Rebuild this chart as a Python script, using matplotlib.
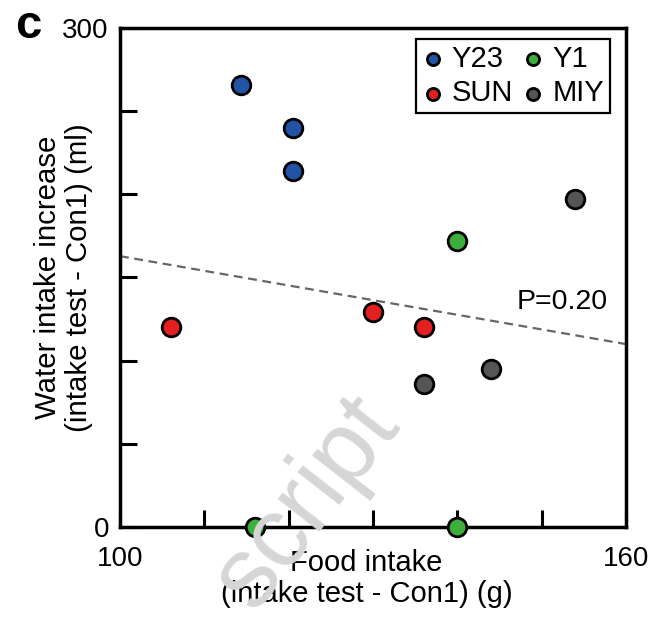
import numpy as np
import matplotlib
matplotlib.use('Agg')
import matplotlib.pyplot as plt

plt.rcParams['font.family'] = ['Liberation Sans', 'DejaVu Sans']

# data
groups = ['Y23', 'SUN', 'Y1', 'MIY']
colors = ['#2353a5', '#e3201f', '#3bae3c', '#555555']
food = {
    'Y23': [114.4, 120.5, 120.5],
    'SUN': [106.0, 130.0, 136.0],
    'Y1': [116.0, 140.0, 140.0],
    'MIY': [136.0, 144.0, 154.0],
}
water = {
    'Y23': [266, 240, 214],
    'SUN': [120, 129, 120],
    'Y1': [0, 172, 0],
    'MIY': [86, 95, 197],
}
p_text = 'P=0.20'

fig = plt.figure(figsize=(6.6, 6.17), dpi=100)
ax = fig.add_axes([0.1818, 0.1459, 0.7667, 0.8087])

# regression line over all points
allx = np.concatenate([food[g] for g in groups])
ally = np.concatenate([water[g] for g in groups])
k, b = np.polyfit(allx, ally, 1)
lx = np.array([100, 160])
ax.plot(lx, k * lx + b, ls=(0, (4, 2.5)), color='#666666', lw=1.6, zorder=1)

for g, c in zip(groups, colors):
    ax.scatter(food[g], water[g], s=180, color=c, edgecolor='black',
               linewidth=2.0, label=g, zorder=3, clip_on=False)

ax.set_xlim(100, 160)
ax.set_ylim(0, 300)
ax.set_xticks(np.arange(100, 161, 10))
ax.set_yticks(np.arange(0, 301, 50))
ax.set_xticklabels(['100', '', '', '', '', '', '160'])
ax.set_yticklabels(['0', '', '', '', '', '', '300'])
ax.tick_params(direction='in', length=12, width=2.2, labelsize=20, pad=8)
ax.tick_params(axis='x', pad=14)
for s in ax.spines.values():
    s.set_linewidth(2.5)

ax.text(152.4, 135, p_text, fontsize=20.5, ha='center', va='center')
ax.set_xlabel('Food intake\n(intake test - Con1) (g)', fontsize=21,
              labelpad=-17, linespacing=1.15)
ax.xaxis.label.set_x(0.487)
ax.set_ylabel('Water intake increase\n(intake test - Con1) (ml)', fontsize=21.2,
              labelpad=-22, linespacing=1.15)

leg = ax.legend(ncol=2, loc='upper right', bbox_to_anchor=(0.968, 0.978),
                borderaxespad=0, fontsize=21, markerscale=0.65,
                handletextpad=0.3, columnspacing=0.35, borderpad=0.2,
                labelspacing=0.22, handlelength=0.7, fancybox=False,
                framealpha=1)
leg.get_frame().set_edgecolor('black')
leg.get_frame().set_linewidth(1.6)

fig.text(0.043, 0.958, 'c', fontsize=34, fontweight='bold', ha='center', va='center')
fig.text(0.465, 0.185, 'script', fontsize=72, color='#d6d6d6', rotation=52,
         ha='center', va='center', zorder=0)

fig.savefig('out.png', dpi=100)
